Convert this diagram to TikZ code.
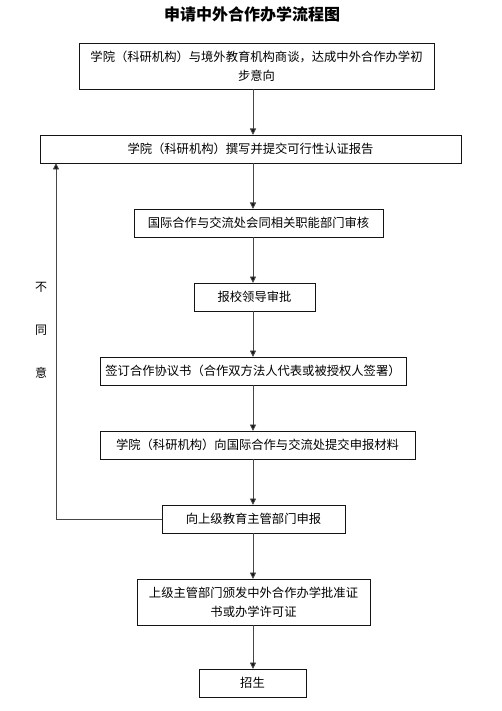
\documentclass[tikz,border=0pt]{standalone}
\usepackage{fontspec}
\setmainfont{Noto Sans CJK SC}
\usepackage{xcolor}
\usepackage{tikz}
\usetikzlibrary{arrows.meta, positioning, calc}
\definecolor{mydark}{RGB}{20,20,20}
\definecolor{mygray}{RGB}{70,70,70}
\tikzset{
  line/.style={draw=mygray, line width=0.9pt},
  arrow/.style={draw=mygray, line width=0.9pt, -{Triangle[width=6pt,length=6.5pt,fill=mydark]}},
  block/.style={draw=mydark, fill=white, rectangle, line width=0.9pt, align=center, inner sep=0pt, outer sep=0pt, font=\fontsize{12.3}{19}\selectfont, minimum height=28pt}
}

\begin{document}
\begin{tikzpicture}[x=1pt, y=-1pt, node distance=46pt]
  \useasboundingbox (0,0) rectangle (501,711);
  \node [font=\fontsize{16}{18}\selectfont\bfseries] (title) at (252,14) {申请中外合作办学流程图};

  \node [block, minimum width=355pt, minimum height=46pt] (talk) at (256.5,66) {学院（科研机构）与境外教育机构商谈，达成中外合作办学初\\步意向};
  \node [block, below=of talk, xshift=-6pt, minimum width=421pt] (report) {学院（科研机构）撰写并提交可行性认证报告};
  \node [block, below=of report, xshift=8pt, minimum width=249pt] (review) {国际合作与交流处会同相关职能部门审核};
  \node [block, below=of review, xshift=-4pt, minimum width=121pt] (approve) {报校领导审批};
  \node [block, below=of approve, xshift=-1.5pt, minimum width=306pt] (sign) {签订合作协议书（合作双方法人代表或被授权人签署）};
  \node [block, below=of sign, xshift=4.5pt, minimum width=315pt] (submit) {学院（科研机构）向国际合作与交流处提交申报材料};
  \node [block, below=of submit, xshift=-4pt, minimum width=183pt] (declare) {向上级教育主管部门申报};
  \node [block, below=of declare, minimum width=233pt, minimum height=46pt] (permit) {上级主管部门颁发中外合作办学批准证\\书或办学许可证};
  \node [block, below=44pt of permit, xshift=-1pt, minimum width=107pt] (enrol) {招生};

  % main flow
  \coordinate (axis) at (253,0);
  \draw [arrow] (axis |- talk.south) -- (axis |- report.north);
  \draw [arrow] (axis |- report.south) -- (axis |- review.north);
  \draw [arrow] (axis |- review.south) -- (axis |- approve.north);
  \draw [arrow] (axis |- approve.south) -- (axis |- sign.north);
  \draw [arrow] (axis |- sign.south) -- (axis |- submit.north);
  \draw [arrow] (axis |- submit.south) -- (axis |- declare.north);
  \draw [arrow] (axis |- declare.south) -- (axis |- permit.north);
  \draw [arrow] (axis |- permit.south) -- (axis |- enrol.north);

  % back loop
  \coordinate (back) at (56,0);
  \draw [arrow] (declare.west) -| (back |- report.south);
  \node [font=\fontsize{12}{43}\selectfont, align=center] (disagree) at (41,330) {不\\同\\意};
\end{tikzpicture}
\end{document}
